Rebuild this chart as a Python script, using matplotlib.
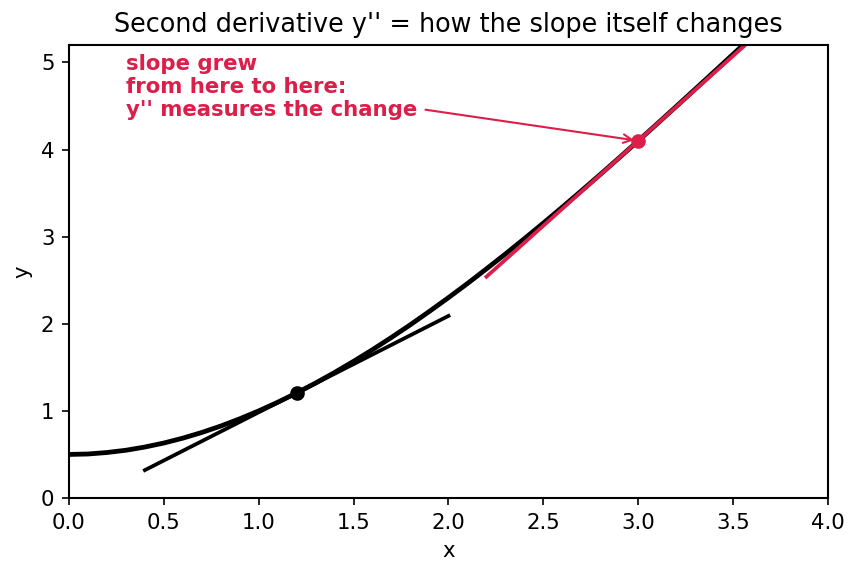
import matplotlib
matplotlib.use('Agg')
import matplotlib.pyplot as plt

# curve
curve_x = [0.0, 0.1, 0.2, 0.3, 0.4, 0.5, 0.6, 0.7, 0.8, 0.9,
           1.0, 1.1, 1.2, 1.3, 1.4, 1.5, 1.6, 1.7, 1.8, 1.9,
           2.0, 2.1, 2.2, 2.3, 2.4, 2.5, 2.6, 2.7, 2.8, 2.9,
           3.0, 3.1, 3.2, 3.3, 3.4, 3.5, 3.6]
curve_y = [0.500, 0.505, 0.522, 0.548, 0.585, 0.631, 0.687, 0.752, 0.826, 0.909,
           1.000, 1.099, 1.206, 1.320, 1.441, 1.569, 1.703, 1.844, 1.990, 2.143,
           2.300, 2.462, 2.630, 2.801, 2.977, 3.156, 3.339, 3.525, 3.714, 3.906,
           4.100, 4.296, 4.494, 4.693, 4.893, 5.094, 5.295]

# tangent segments
tan1_x = [0.4, 2.0]
tan1_y = [0.32, 2.09]
tan2_x = [2.2, 3.8]
tan2_y = [2.54, 5.66]

# touching points
pt1 = (1.2, 1.2)
pt2 = (3.0, 4.1)

red = '#DC1E4A'
plt.rcParams['font.size'] = 10.2
plt.rcParams['axes.linewidth'] = 1.0

fig = plt.figure(figsize=(8.59 / 1.5, 5.73 / 1.5), dpi=150)
ax = fig.add_axes([0.0803, 0.1309, 0.8836, 0.7906])

ax.plot(curve_x, curve_y, color='black', lw=2.3)
ax.plot(tan1_x, tan1_y, color='black', lw=1.8)
ax.plot(*pt1, 'o', color='black', ms=6)
ax.plot(tan2_x, tan2_y, color=red, lw=1.8)
ax.plot(*pt2, 'o', color=red, ms=6)

ax.annotate("slope grew\nfrom here to here:\ny'' measures the change",
            xy=pt2, xytext=(0.3, 4.38), color=red, fontweight='bold', fontsize=10.2,
            arrowprops=dict(arrowstyle='->', color=red, lw=1))

ax.set_xlim(0, 4)
ax.set_ylim(0, 5.2)
ax.set_xlabel('x')
ax.set_ylabel('y')
ax.set_title("Second derivative y'' = how the slope itself changes", fontsize=12.25)

plt.savefig('out.png', dpi=150)
